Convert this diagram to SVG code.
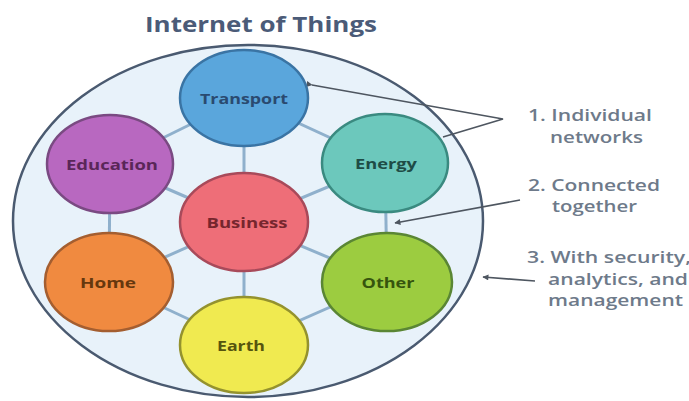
<svg xmlns="http://www.w3.org/2000/svg" width="689" height="401" viewBox="0 0 689 401">
<defs>
<marker id="ah" viewBox="0 0 10 10" refX="9" refY="5" markerWidth="7" markerHeight="6" orient="auto" markerUnits="userSpaceOnUse">
<path d="M0,0 L10,5 L0,10 z" fill="#4e5660"/>
</marker>
</defs>
<style>
.node{stroke-width:2.5}
.lbl{font-family:"Open Sans","Liberation Sans",sans-serif;font-weight:700;font-size:15px;text-anchor:middle;dominant-baseline:central}
.link{stroke:#8fb0cc;stroke-width:3}
.ptr{stroke:#4e5660;stroke-width:1.6;fill:none}
.note{font-family:"Open Sans","Liberation Sans",sans-serif;font-weight:600;font-size:17px;fill:#6e7a8a}
</style>
<rect width="689" height="401" fill="#ffffff"/>
<text x="145" y="32" font-family="'Open Sans','Liberation Sans',sans-serif" font-weight="700" font-size="21" fill="#4b5b78" textLength="232" lengthAdjust="spacingAndGlyphs">Internet of Things</text>
<g id="iot-boundary">
<ellipse cx="248" cy="221" rx="235" ry="176" fill="#e8f2fa" stroke="#4a5a70" stroke-width="2.5"/>
</g>
<g id="connectors">
<line class="link" x1="244" y1="98" x2="110" y2="164"/>
<line class="link" x1="244" y1="98" x2="385" y2="163"/>
<line class="link" x1="244" y1="98" x2="244" y2="222"/>
<line class="link" x1="110" y1="164" x2="244" y2="222"/>
<line class="link" x1="385" y1="163" x2="244" y2="222"/>
<line class="link" x1="110" y1="164" x2="109" y2="282"/>
<line class="link" x1="385" y1="163" x2="387" y2="282"/>
<line class="link" x1="244" y1="222" x2="109" y2="282"/>
<line class="link" x1="244" y1="222" x2="387" y2="282"/>
<line class="link" x1="244" y1="222" x2="244" y2="345"/>
<line class="link" x1="109" y1="282" x2="244" y2="345"/>
<line class="link" x1="387" y1="282" x2="244" y2="345"/>
<polyline class="ptr" points="312,85 503,119 443,137" marker-start="url(#ah)"/>
<line class="ptr" x1="520" y1="200" x2="395" y2="223" marker-end="url(#ah)"/>
<line class="ptr" x1="535" y1="281" x2="483" y2="277" marker-end="url(#ah)"/>
</g>
<g id="transport">
<ellipse class="node" cx="244" cy="98" rx="64" ry="48" fill="#5aa6dc" stroke="#3a74a4"/>
<text class="lbl" x="244" y="98" fill="#2a4a70" textLength="88" lengthAdjust="spacingAndGlyphs">Transport</text>
</g>
<g id="education">
<ellipse class="node" cx="110" cy="164" rx="63" ry="49" fill="#b868c0" stroke="#7a4a82"/>
<text class="lbl" x="112" y="164" fill="#5a2658" textLength="92" lengthAdjust="spacingAndGlyphs">Education</text>
</g>
<g id="energy">
<ellipse class="node" cx="385" cy="163" rx="63" ry="49" fill="#6cc8bc" stroke="#3a8a80"/>
<text class="lbl" x="386" y="163" fill="#1e4c46" textLength="62" lengthAdjust="spacingAndGlyphs">Energy</text>
</g>
<g id="business">
<ellipse class="node" cx="244" cy="222" rx="64" ry="49" fill="#ee6e78" stroke="#a84a5a"/>
<text class="lbl" x="247" y="222" fill="#76262e" textLength="81" lengthAdjust="spacingAndGlyphs">Business</text>
</g>
<g id="home">
<ellipse class="node" cx="109" cy="282" rx="64" ry="49" fill="#f08a40" stroke="#a45e30"/>
<text class="lbl" x="108" y="282" fill="#66380e" textLength="56" lengthAdjust="spacingAndGlyphs">Home</text>
</g>
<g id="other">
<ellipse class="node" cx="387" cy="282" rx="65" ry="49" fill="#9ccc40" stroke="#5a8634"/>
<text class="lbl" x="388" y="282" fill="#36540e" textLength="53" lengthAdjust="spacingAndGlyphs">Other</text>
</g>
<g id="earth">
<ellipse class="node" cx="244" cy="345" rx="64" ry="48" fill="#f0ea50" stroke="#94922e"/>
<text class="lbl" x="241" y="345" fill="#56540e" textLength="48" lengthAdjust="spacingAndGlyphs">Earth</text>
</g>
<g id="notes">
<text class="note" x="528" y="121" textLength="124" lengthAdjust="spacingAndGlyphs">1. Individual</text>
<text class="note" x="550" y="143" textLength="93" lengthAdjust="spacingAndGlyphs">networks</text>
<text class="note" x="528" y="191" textLength="132" lengthAdjust="spacingAndGlyphs">2. Connected</text>
<text class="note" x="552" y="212" textLength="85" lengthAdjust="spacingAndGlyphs">together</text>
<text class="note" x="527" y="263" textLength="164" lengthAdjust="spacingAndGlyphs">3. With security,</text>
<text class="note" x="548" y="285" textLength="140" lengthAdjust="spacingAndGlyphs">analytics, and</text>
<text class="note" x="548" y="306" textLength="135" lengthAdjust="spacingAndGlyphs">management</text>
</g>
</svg>
